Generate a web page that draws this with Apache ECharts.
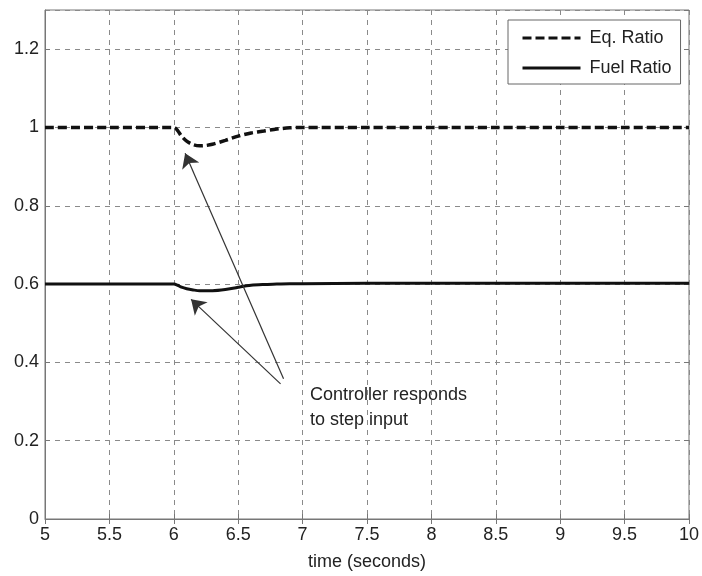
<!DOCTYPE html>
<html>
<head>
<meta charset="utf-8">
<script src="https://cdn.jsdelivr.net/npm/echarts@6/dist/echarts.min.js"></script>
<style>html,body{margin:0;padding:0;background:#fff;}#c{width:702px;height:576px;}</style>
</head>
<body>
<div id="c"></div>
<script>
var time      = [5, 5.5, 6, 6.03, 6.06, 6.1, 6.15, 6.2, 6.25, 6.3, 6.4, 6.5, 6.6, 6.7, 6.8, 6.9, 7, 7.5, 8, 8.5, 9, 9.5, 10];
var eqRatio   = [1, 1, 1, 0.992, 0.978, 0.965, 0.956, 0.953, 0.954, 0.957, 0.967, 0.978, 0.986, 0.991, 0.996, 0.999, 1, 1, 1, 1, 1, 1, 1];
var fuelRatio = [0.6, 0.6, 0.6, 0.597, 0.592, 0.588, 0.585, 0.583, 0.583, 0.583, 0.586, 0.592, 0.597, 0.599, 0.6, 0.601, 0.601, 0.602, 0.602, 0.602, 0.602, 0.602, 0.602];
var seriesNames = ['Eq. Ratio', 'Fuel Ratio'];
var arrowFrom = [[6.852, 0.358], [6.829, 0.345]];
var arrowTo   = [[6.088, 0.934], [6.134, 0.561]];
var noteText  = 'Controller responds\nto step input';

var chart = echarts.init(document.getElementById('c'));
var font = 'Liberation Sans, Arial, Helvetica, sans-serif';
function pairs(xs, ys) { return xs.map(function (x, i) { return [x, ys[i]]; }); }
var arrows = arrowFrom.map(function (p, i) { return { coords: [p, arrowTo[i]] }; });

var gridLine = { show: true, lineStyle: { color: '#8a8a8a', type: [5, 5], width: 1 } };
chart.setOption({
  animation: false,
  backgroundColor: '#fff',
  grid: { left: 45, right: 9, top: 10, bottom: 53, show: true, borderColor: '#777', borderWidth: 1 },
  legend: {
    data: seriesNames,
    orient: 'vertical',
    left: 508, top: 20,
    padding: [9, 9, 7, 13],
    itemGap: 12,
    itemWidth: 58, itemHeight: 14,
    backgroundColor: '#fff',
    borderColor: '#666', borderWidth: 1,
    itemStyle: { opacity: 0 },
    lineStyle: { width: 3 },
    textStyle: { fontFamily: font, fontSize: 18, color: '#222', padding: [0, 0, 0, 4] }
  },
  xAxis: [{
    type: 'value', min: 5, max: 10, interval: 0.5,
    name: 'time (seconds)', nameLocation: 'middle', nameGap: 34,
    nameTextStyle: { fontFamily: font, fontSize: 18, color: '#222' },
    axisLine: { show: true, lineStyle: { color: '#777' } },
    axisTick: { show: true, inside: true, length: 5, lineStyle: { color: '#777' } },
    axisLabel: { fontFamily: font, fontSize: 18, color: '#222', margin: 7 },
    splitLine: gridLine
  }, {
    type: 'value', min: 5, max: 10, interval: 0.5, position: 'top',
    axisLine: { show: false },
    axisTick: { show: true, inside: true, length: 5, lineStyle: { color: '#777' } },
    axisLabel: { show: false }, splitLine: { show: false }
  }],
  yAxis: [{
    type: 'value', min: 0, max: 1.3, interval: 0.2,
    axisLine: { show: true, lineStyle: { color: '#777' } },
    axisTick: { show: true, inside: true, length: 5, lineStyle: { color: '#777' } },
    axisLabel: { fontFamily: font, fontSize: 18, color: '#222', margin: 6, showMaxLabel: false },
    splitLine: gridLine
  }, {
    type: 'value', min: 0, max: 1.3, interval: 0.2, position: 'right',
    axisLine: { show: false },
    axisTick: { show: true, inside: true, length: 5, lineStyle: { color: '#777' } },
    axisLabel: { show: false }, splitLine: { show: false }
  }],
  series: [{
    name: seriesNames[0], type: 'line', symbol: 'none', smooth: 0.3,
    data: pairs(time, eqRatio),
    lineStyle: { color: '#111', width: 3.5, type: [9, 4] },
    itemStyle: { color: '#111' }, z: 5
  }, {
    name: seriesNames[1], type: 'line', symbol: 'none', smooth: 0.3,
    data: pairs(time, fuelRatio),
    lineStyle: { color: '#111', width: 3 },
    itemStyle: { color: '#111' }, z: 5
  }, {
    type: 'lines', coordinateSystem: 'cartesian2d',
    symbol: ['none', 'arrow'], symbolSize: [1, 14],
    lineStyle: { color: '#333', width: 1.2, opacity: 1 },
    data: arrows, z: 6
  }],
  graphic: [{
    type: 'text', left: 310, top: 383,
    style: { text: noteText, fontFamily: font, fontSize: 18, lineHeight: 25, fill: '#222' }
  }]
});
</script>
</body>
</html>
